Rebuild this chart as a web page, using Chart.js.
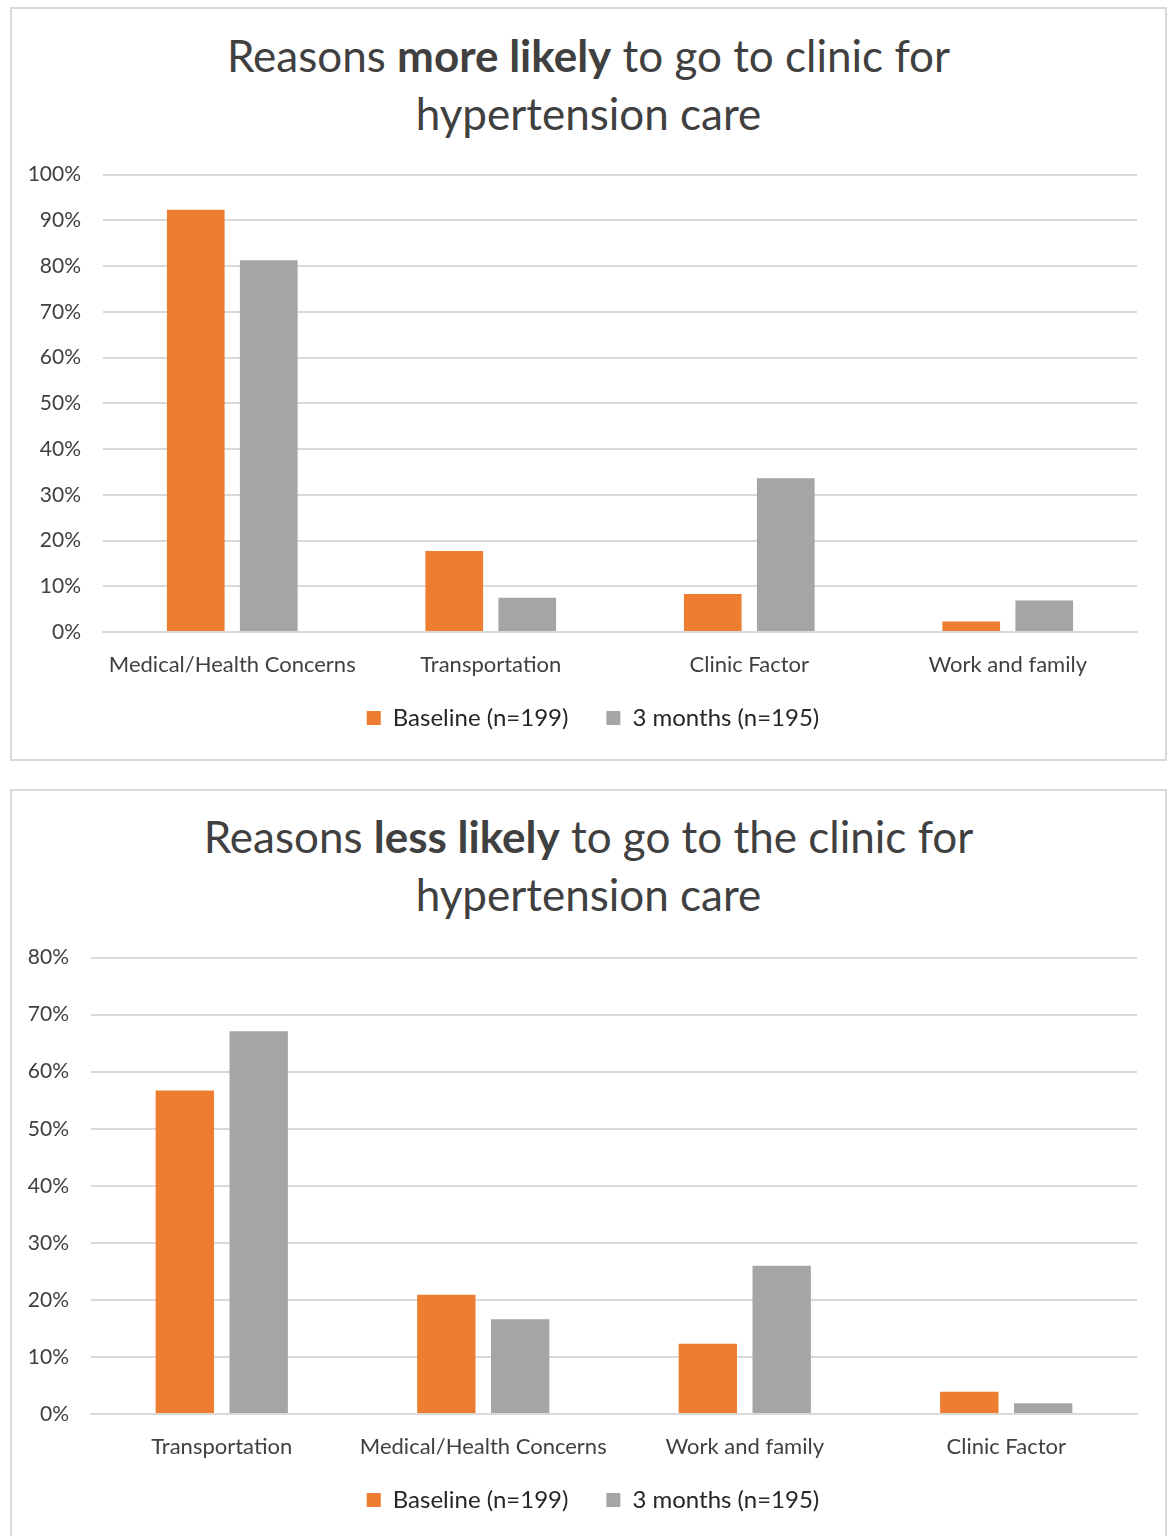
<!DOCTYPE html>
<html>
<head>
<meta charset="utf-8">
<script src="https://cdn.jsdelivr.net/npm/chart.js@4"></script>
<style>
  body { margin: 0; background: #fff; font-family: Lato, "Open Sans", sans-serif; }
  .box { position: absolute; border: 2px solid #d9d9d9; background: #fff; }
  .title { position: absolute; left: 0; right: 0; text-align: center; color: #404040; font-size: 44px; line-height: 58px; }
  .title b { font-weight: 700; }
  .wrap { position: absolute; }
</style>
</head>
<body>

<div class="box" style="left:10px; top:7px; width:1153px; height:750px;">
  <div class="title" style="top:17px;">Reasons <b>more likely</b> to go to clinic for<br>hypertension care</div>
</div>
<div class="wrap" style="left:12px; top:140px; width:1150px; height:610px;"><canvas id="moreChart"></canvas></div>

<div class="box" style="left:10px; top:789px; width:1153px; height:760px;">
  <div class="title" style="top:16px;">Reasons <b>less likely</b> to go to the clinic for<br>hypertension care</div>
</div>
<div class="wrap" style="left:12px; top:923px; width:1150px; height:609px;"><canvas id="lessChart"></canvas></div>

<script>
// chart 1: more likely
var moreLabels = ["Medical/Health Concerns", "Transportation", "Clinic Factor", "Work and family"];
var moreBaseline = [92.3, 17.7, 8.3, 2.3];
var more3Months = [81.3, 7.5, 33.6, 6.9];

// chart 2: less likely
var lessLabels = ["Transportation", "Medical/Health Concerns", "Work and family", "Clinic Factor"];
var lessBaseline = [56.7, 20.9, 12.3, 3.9];
var less3Months = [67.1, 16.6, 26.0, 1.9];

var seriesNames = ["Baseline (n=199)", "3 months (n=195)"];
var orange = "#ED7D31";
var grey = "#A5A5A5";

// axis boxes are kept small for the layout, so give their labels room to draw
var labelRoom = {
  id: 'labelRoom',
  afterLayout: function (chart) {
    chart.scales.x.bottom = chart.scales.x.top + 60;
    chart.scales.y.left = 0;
  }
};

function makeChart(id, labels, base, months, yMax, yWidth) {
  return new Chart(document.getElementById(id), {
    type: 'bar',
    data: {
      labels: labels,
      datasets: [
        { label: seriesNames[0], data: base, backgroundColor: orange, barPercentage: 0.79, categoryPercentage: 0.565 },
        { label: seriesNames[1], data: months, backgroundColor: grey, barPercentage: 0.79, categoryPercentage: 0.565 }
      ]
    },
    plugins: [labelRoom],
    options: {
      responsive: true,
      maintainAspectRatio: false,
      animation: false,
      layout: { padding: { top: 0, right: 25, bottom: 10, left: 37 } },
      plugins: {
        legend: {
          position: 'bottom',
          labels: {
            boxWidth: 14, boxHeight: 14, padding: 38,
            color: '#262626',
            font: { family: 'Lato', size: 24 }
          }
        },
        tooltip: { enabled: false }
      },
      scales: {
        x: {
          afterFit: function (s) { s.height = 36; },
          grid: { display: false },
          border: { color: '#d9d9d9', width: 2 },
          ticks: { color: '#404040', padding: 12, font: { family: 'Lato', size: 22 } }
        },
        y: {
          min: 0, max: yMax,
          afterFit: function (s) { s.width = yWidth; },
          grid: { color: '#d9d9d9', lineWidth: 2, drawTicks: false },
          border: { display: false },
          ticks: {
            stepSize: 10, padding: 22, color: '#404040',
            font: { family: 'Lato', size: 21 },
            callback: function (v) { return v + '%'; }
          }
        }
      }
    }
  });
}

makeChart('moreChart', moreLabels, moreBaseline, more3Months, 100, 54);
makeChart('lessChart', lessLabels, lessBaseline, less3Months, 80, 42);
</script>
</body>
</html>
